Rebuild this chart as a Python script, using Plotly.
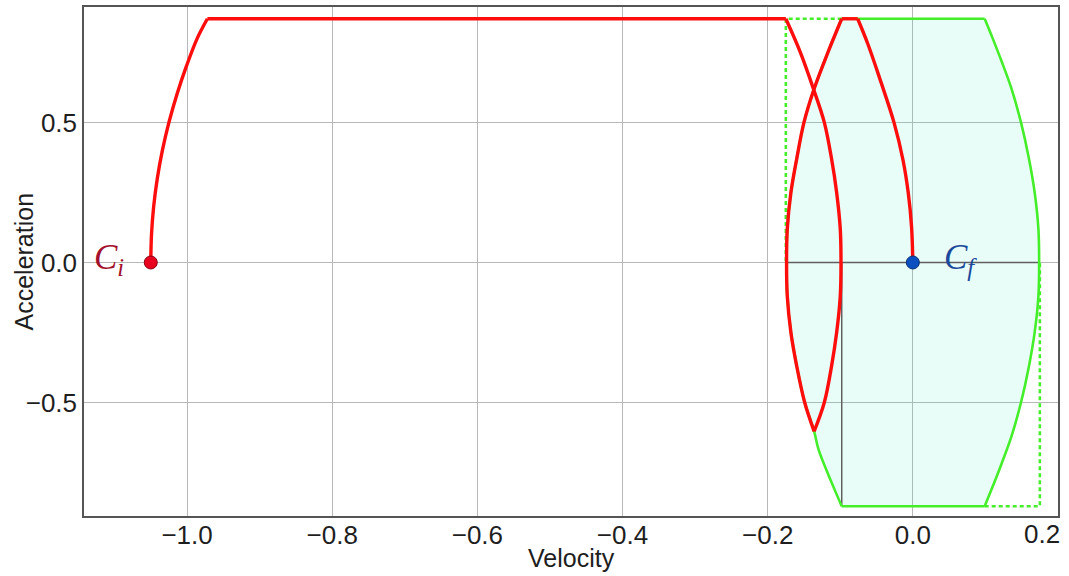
import plotly.graph_objects as go

# ---------------- data ----------------
# Red trajectory, piece by piece (velocity v, acceleration a)
red_rise_a = [0.00, 0.10, 0.20, 0.30, 0.40, 0.50, 0.60, 0.70, 0.80, 0.87]
red_rise_v = [-1.050, -1.049, -1.046, -1.041, -1.034, -1.025, -1.014, -1.001, -0.986, -0.972]

red_cruise_a = [0.87, 0.87]
red_cruise_v = [-0.972, -0.175]

red_fall_a = [0.87, 0.75, 0.62, 0.50, 0.37, 0.25, 0.12, 0.00, -0.12, -0.25, -0.37, -0.50, -0.603]
red_fall_v = [-0.175, -0.155, -0.137, -0.122, -0.112, -0.105, -0.100, -0.099, -0.100, -0.105, -0.112, -0.122, -0.136]

red_recover_a = [-0.603, -0.50, -0.37, -0.25, -0.12, 0.00, 0.12, 0.25, 0.37, 0.50, 0.62, 0.75, 0.87]
red_recover_v = [-0.136, -0.149, -0.160, -0.168, -0.173, -0.174, -0.173, -0.168, -0.160, -0.150, -0.136, -0.117, -0.098]

red_peak_a = [0.87, 0.87]
red_peak_v = [-0.098, -0.076]

red_final_a = [0.87, 0.78, 0.66, 0.50, 0.365, 0.246, 0.128, 0.00]
red_final_v = [-0.076, -0.062, -0.046, -0.026, -0.0135, -0.0062, -0.0018, 0.0]

# Green reachable region boundaries
green_left_a = [-0.87, -0.785, -0.667, -0.603, -0.50, -0.37, -0.25, -0.12, 0.00,
                0.12, 0.25, 0.37, 0.50, 0.62, 0.75, 0.87]
green_left_v = [-0.098, -0.112, -0.130, -0.136, -0.149, -0.160, -0.168, -0.173, -0.174,
                -0.173, -0.168, -0.160, -0.150, -0.136, -0.117, -0.098]
green_right_a = [0.87, 0.80, 0.72, 0.62, 0.50, 0.37, 0.247, 0.12, 0.00,
                 -0.12, -0.247, -0.37, -0.50, -0.62, -0.72, -0.80, -0.87]
green_right_v = [0.099, 0.110, 0.122, 0.136, 0.149, 0.160, 0.168, 0.173, 0.174,
                 0.173, 0.168, 0.160, 0.149, 0.136, 0.122, 0.110, 0.099]
green_top_a = [0.87, 0.87]
green_top_v = [-0.098, 0.099]
green_bottom_a = [-0.87, -0.87]
green_bottom_v = [-0.098, 0.099]

# Dotted bounding lines
box_left_v = [-0.098, -0.175, -0.175]
box_left_a = [0.87, 0.87, 0.00]
box_right_v = [0.099, 0.175, 0.175]
box_right_a = [-0.87, -0.87, 0.00]

# Dark guide lines
guide_h_v = [-0.174, 0.174]
guide_h_a = [0.0, 0.0]
guide_v_v = [-0.098, -0.098]
guide_v_a = [0.0, -0.87]

# End points
ci_v, ci_a = -1.05, 0.0
cf_v, cf_a = 0.0, 0.0

# Axis ticks
x_tickvals = [-1.0, -0.8, -0.6, -0.4, -0.2, 0.0, 0.2]
x_ticktext = ["\u22121.0", "\u22120.8", "\u22120.6", "\u22120.4", "\u22120.2", "0.0", ""]
y_tickvals = [-0.5, 0.0, 0.5]
y_ticktext = ["\u22120.5", "0.0", "0.5"]

# ---------------- styling ----------------
RED = "#ff0d0d"
GREEN = "#45ee2a"
FILL = "rgba(25,235,185,0.10)"
GUIDE = "#5f5f5f"
FONT = "Liberation Sans"
TXT = "#1e1e1e"

fig = go.Figure()

# filled region
poly_v = green_left_v + green_right_v + [green_left_v[0]]
poly_a = green_left_a + green_right_a + [green_left_a[0]]
fig.add_trace(go.Scatter(x=poly_v, y=poly_a, mode="lines", fill="toself",
                         fillcolor=FILL, line=dict(width=0), hoverinfo="skip"))

# guide lines
for gv, ga in [(guide_h_v, guide_h_a), (guide_v_v, guide_v_a)]:
    fig.add_trace(go.Scatter(x=gv, y=ga, mode="lines",
                             line=dict(color=GUIDE, width=1.5)))

# dotted box
for bv, ba in [(box_left_v, box_left_a), (box_right_v, box_right_a)]:
    fig.add_trace(go.Scatter(x=bv, y=ba, mode="lines",
                             line=dict(color=GREEN, width=2.6, dash="4px,3px")))

# green outline
for gv, ga, shp in [(green_left_v, green_left_a, "spline"),
                    (green_right_v, green_right_a, "spline"),
                    (green_top_v, green_top_a, "linear"),
                    (green_bottom_v, green_bottom_a, "linear")]:
    fig.add_trace(go.Scatter(x=gv, y=ga, mode="lines",
                             line=dict(color=GREEN, width=2.6, shape=shp)))

# red trajectory
for rv, ra, shp in [(red_rise_v, red_rise_a, "spline"),
                    (red_cruise_v, red_cruise_a, "linear"),
                    (red_fall_v, red_fall_a, "spline"),
                    (red_recover_v, red_recover_a, "spline"),
                    (red_peak_v, red_peak_a, "linear"),
                    (red_final_v, red_final_a, "spline")]:
    fig.add_trace(go.Scatter(x=rv, y=ra, mode="lines",
                             line=dict(color=RED, width=3.4, shape=shp)))

# markers
fig.add_trace(go.Scatter(x=[ci_v], y=[ci_a], mode="markers",
                         marker=dict(size=13, color="#e8001e",
                                     line=dict(color="#8a0010", width=1))))
fig.add_trace(go.Scatter(x=[cf_v], y=[cf_a], mode="markers",
                         marker=dict(size=13, color="#0b4fc0",
                                     line=dict(color="#0a2f70", width=1))))

# labels
fig.add_annotation(x=-1.108, y=0.0, xref="x", yref="y", showarrow=False,
                   text="<i>C<sub>i</sub></i>",
                   font=dict(family="Liberation Serif", size=35, color="#a3102c"),
                   xanchor="center", yanchor="middle", yshift=3)
fig.add_annotation(x=0.066, y=0.0, xref="x", yref="y", showarrow=False,
                   text="<i>C<sub>f</sub></i>",
                   font=dict(family="Liberation Serif", size=35, color="#1b4a9c"),
                   xanchor="center", yanchor="middle", yshift=3)
# last x tick label (kept inside the canvas like the reference)
fig.add_annotation(x=0.2, y=0, xref="x", yref="paper", showarrow=False,
                   text="0.2", font=dict(family=FONT, size=26, color=TXT),
                   xanchor="right", yanchor="top", xshift=4, yshift=-1)
# axis titles
fig.add_annotation(x=0.5, y=0, xref="paper", yref="paper", showarrow=False,
                   text="Velocity", font=dict(family=FONT, size=25, color=TXT),
                   xanchor="center", yanchor="middle", yshift=-42)
fig.add_annotation(x=0, y=0.5, xref="paper", yref="paper", showarrow=False,
                   text="Acceleration", textangle=-90,
                   font=dict(family=FONT, size=25, color=TXT),
                   xanchor="center", yanchor="middle", xshift=-61)

fig.update_layout(
    width=1069, height=576,
    margin=dict(l=84, r=11, t=7, b=60),
    paper_bgcolor="white", plot_bgcolor="white",
    showlegend=False,
    font=dict(family=FONT, size=25, color=TXT),
)
fig.update_xaxes(range=[-1.142, 0.2], tickvals=x_tickvals, ticktext=x_ticktext,
                 showgrid=True, gridcolor="#b8b8b8", gridwidth=1, zeroline=False,
                 showline=True, mirror=True, linecolor="#555555", linewidth=1.5,
                 ticks="", ticklabelstandoff=-5,
                 tickfont=dict(family=FONT, size=26, color=TXT),
                 automargin=False)
fig.update_yaxes(range=[-0.905, 0.912], tickvals=y_tickvals, ticktext=y_ticktext,
                 showgrid=True, gridcolor="#b8b8b8", gridwidth=1, zeroline=False,
                 showline=True, mirror=True, linecolor="#555555", linewidth=1.5,
                 ticks="", tickfont=dict(family=FONT, size=26, color=TXT),
                 automargin=False)

fig.write_html("out.html",
               config={"displayModeBar": False},
               post_script="document.body.style.margin='0';"
                           "document.body.style.overflow='hidden';")
